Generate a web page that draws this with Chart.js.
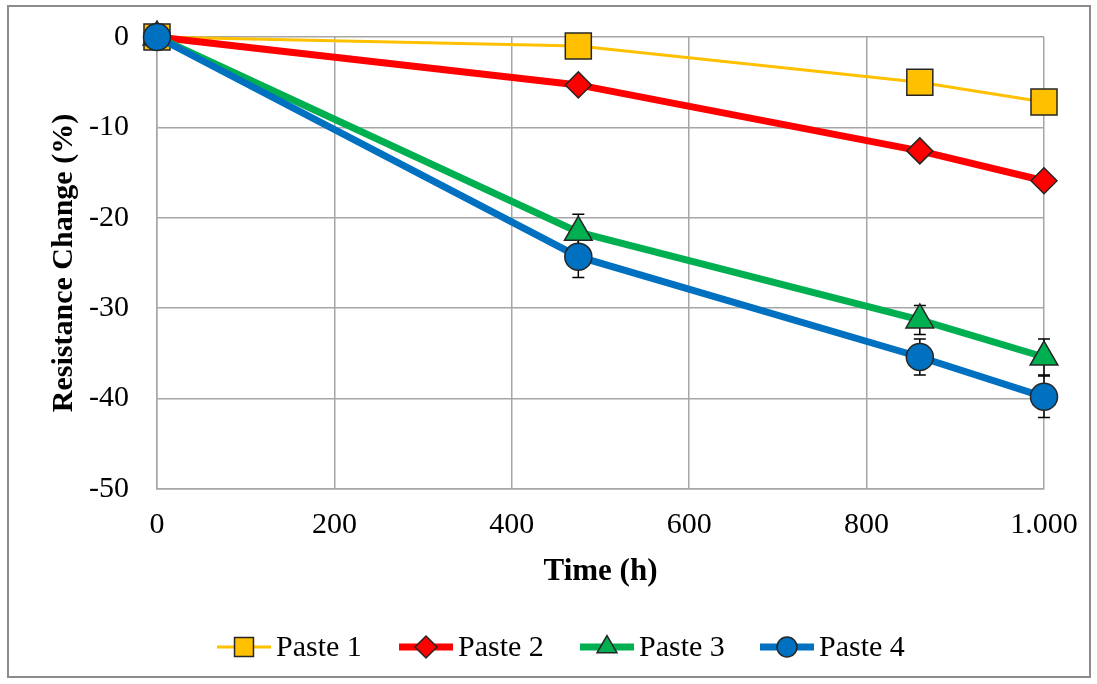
<!DOCTYPE html>
<html>
<head>
<meta charset="utf-8">
<script src="https://cdn.jsdelivr.net/npm/chart.js@4.4.0/dist/chart.umd.min.js"></script>
<style>
  html, body { margin: 0; padding: 0; background: #fff; }
</style>
</head>
<body>
<canvas id="myChart" width="1097" height="684"></canvas>
<script>
// data
const hours = [0, 475, 860, 1000];
const paste1 = [0, -1.0, -5.0, -7.2];
const paste2 = [0, -5.3, -12.6, -15.9];
const paste3 = [0, -21.6, -31.3, -35.4];
const paste4 = [0, -24.3, -35.4, -39.8];
const paste3Err = [0, 2.0, 1.6, 2.0];
const paste4Err = [0, 2.3, 2.0, 2.3];
const seriesNames = ["Paste 1", "Paste 2", "Paste 3", "Paste 4"];

const serif = "'Liberation Serif', 'Times New Roman', serif";
Chart.defaults.font.family = serif;
Chart.defaults.color = "#000";

const toPoints = (vals) => vals.map((v, i) => ({ x: hours[i], y: v }));

// outer frame of the picture
const framePlugin = {
  id: "frame",
  beforeDraw(chart) {
    const ctx = chart.ctx;
    ctx.save();
    ctx.fillStyle = "#fff";
    ctx.fillRect(0, 0, chart.width, chart.height);
    ctx.strokeStyle = "#8c8c8c";
    ctx.lineWidth = 2;
    ctx.strokeRect(8, 6, 1082, 671);
    ctx.restore();
  },
};

// vertical error bars, drawn under the lines and markers
const errorBarPlugin = {
  id: "errorBars",
  beforeDatasetsDraw(chart) {
    const { ctx, scales } = chart;
    ctx.save();
    ctx.strokeStyle = "#000";
    ctx.lineWidth = 1.5;
    chart.data.datasets.forEach((ds) => {
      if (!ds.errors) return;
      ds.data.forEach((p, i) => {
        const e = ds.errors[i];
        if (!e) return;
        const px = scales.x.getPixelForValue(p.x);
        const top = scales.y.getPixelForValue(p.y + e);
        const bot = scales.y.getPixelForValue(p.y - e);
        ctx.beginPath();
        ctx.moveTo(px, top);
        ctx.lineTo(px, bot);
        ctx.moveTo(px - 6, top);
        ctx.lineTo(px + 6, top);
        ctx.moveTo(px - 6, bot);
        ctx.lineTo(px + 6, bot);
        ctx.stroke();
      });
    });
    ctx.restore();
  },
};

// legend row at the bottom: short line with a smaller marker in the middle
const legendCenters = [244, 426, 607, 787];
const legendMarkerRadius = [13.4, 11, 11.5, 10];
const legendPlugin = {
  id: "lineLegend",
  afterDraw(chart) {
    const ctx = chart.ctx;
    const cy = 647;
    ctx.save();
    chart.data.datasets.forEach((ds, i) => {
      const cx = legendCenters[i];
      ctx.strokeStyle = ds.borderColor;
      ctx.lineWidth = ds.borderWidth;
      ctx.beginPath();
      ctx.moveTo(cx - 27, cy);
      ctx.lineTo(cx + 27, cy);
      ctx.stroke();
      ctx.fillStyle = ds.pointBackgroundColor;
      ctx.strokeStyle = ds.pointBorderColor;
      ctx.lineWidth = 1.5;
      Chart.helpers.drawPoint(ctx, {
        pointStyle: ds.pointStyle,
        radius: legendMarkerRadius[i],
        rotation: 0,
        borderWidth: 1.5,
      }, cx, cy);
      ctx.fillStyle = "#000";
      ctx.font = "30px " + serif;
      ctx.textAlign = "left";
      ctx.textBaseline = "middle";
      ctx.fillText(ds.label, cx + 32, cy + 1);
    });
    ctx.restore();
  },
};

const ctx = document.getElementById("myChart").getContext("2d");
const resistanceChart = new Chart(ctx, {
  type: "line",
  data: {
    datasets: [
      {
        label: seriesNames[0],
        data: toPoints(paste1),
        borderColor: "#FFC000",
        borderWidth: 3,
        pointStyle: "rect",
        pointRadius: 18.4,
        pointBackgroundColor: "#FFC000",
        pointBorderColor: "#262626",
        pointBorderWidth: 1.5,
        order: 4,
      },
      {
        label: seriesNames[1],
        data: toPoints(paste2),
        borderColor: "#FF0000",
        borderWidth: 7,
        pointStyle: "rectRot",
        pointRadius: 13,
        pointBackgroundColor: "#FF0000",
        pointBorderColor: "#262626",
        pointBorderWidth: 1.5,
        order: 3,
      },
      {
        label: seriesNames[2],
        data: toPoints(paste3),
        errors: paste3Err,
        borderColor: "#00B050",
        borderWidth: 7,
        pointStyle: "triangle",
        pointRadius: 16,
        pointBackgroundColor: "#00B050",
        pointBorderColor: "#262626",
        pointBorderWidth: 1.5,
        order: 2,
      },
      {
        label: seriesNames[3],
        data: toPoints(paste4),
        errors: paste4Err,
        borderColor: "#0070C0",
        borderWidth: 7,
        pointStyle: "circle",
        pointRadius: 13.5,
        pointBackgroundColor: "#0070C0",
        pointBorderColor: "#262626",
        pointBorderWidth: 1.5,
        order: 1,
      },
    ],
  },
  options: {
    responsive: false,
    animation: false,
    clip: false,
    layout: { autoPadding: false, padding: { left: 0, top: 37, right: 53, bottom: 85 } },
    plugins: {
      legend: { display: false },
      tooltip: { enabled: false },
    },
    scales: {
      x: {
        type: "linear",
        min: 0,
        max: 1000,
        ticks: {
          stepSize: 200,
          padding: 18,
          font: { size: 30 },
          callback: (v) => v.toLocaleString("de-DE"),
        },
        grid: { color: "#a6a6a6", lineWidth: 1.5, drawTicks: false },
        border: { color: "#a6a6a6", width: 1.5 },
        title: {
          display: true,
          text: "Time (h)",
          font: { size: 31, weight: "bold" },
          padding: { top: 0, bottom: 8 },
        },
        afterFit: (scale) => { scale.height = 110; },
      },
      y: {
        min: -50,
        max: 0,
        ticks: { stepSize: 10, padding: 28, font: { size: 30 } },
        grid: { color: "#a6a6a6", lineWidth: 1.5, drawTicks: false },
        border: { color: "#a6a6a6", width: 1.5 },
        title: {
          display: true,
          text: "Resistance Change (%)",
          font: { size: 30, weight: "bold" },
          padding: { top: 46, bottom: 0 },
        },
        afterFit: (scale) => {
          scale.width = 157;
          scale.paddingTop = 0;
          scale.paddingBottom = 0;
        },
      },
    },
  },
  plugins: [framePlugin, errorBarPlugin, legendPlugin],
});
</script>
</body>
</html>
